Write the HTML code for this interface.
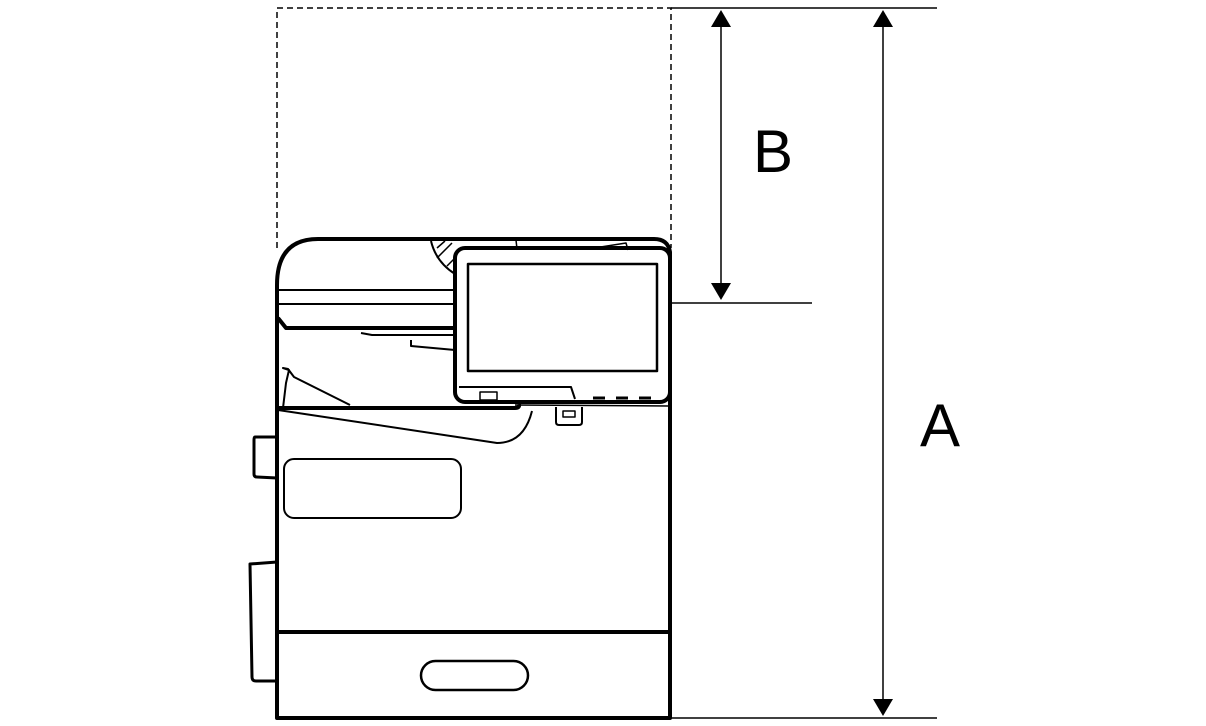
<!DOCTYPE html>
<html><head><style>html,body{margin:0;padding:0;background:#fff;}svg{display:block}</style></head>
<body>
<svg width="1206" height="726" viewBox="0 0 1206 726" xmlns="http://www.w3.org/2000/svg">
<g fill="none" stroke="#000">
<!-- dashed envelope -->
<path d="M277 248 V8 H671 V248" stroke-width="1.5" stroke-dasharray="6 4"/>
<!-- dimension lines -->
<line x1="671" y1="8" x2="937" y2="8" stroke-width="1.5"/>
<line x1="672" y1="303" x2="812" y2="303" stroke-width="1.5"/>
<line x1="671" y1="718" x2="937" y2="718" stroke-width="1.5"/>
<line x1="721" y1="24" x2="721" y2="284" stroke-width="1.5"/>
<line x1="883" y1="24" x2="883" y2="702" stroke-width="1.5"/>
</g>
<g fill="#000">
<polygon points="721,10 711,27 731,27"/>
<polygon points="721,300 711,283 731,283"/>
<polygon points="883,10 873,27 893,27"/>
<polygon points="883,716 873,699 893,699"/>
</g>
<text x="773" y="172" font-family="Liberation Sans, sans-serif" font-size="60" text-anchor="middle">B</text>
<text x="940" y="446" font-family="Liberation Sans, sans-serif" font-size="60" text-anchor="middle">A</text>
<g fill="none" stroke="#000" stroke-linejoin="round">
<!-- main body -->
<path d="M277 718 V285 Q277 239 318 239 H654 Q668 239 670 252 V718 Z" stroke-width="4"/>
<line x1="277" y1="632" x2="669" y2="632" stroke-width="4"/>
<rect x="421" y="661" width="107" height="29" rx="14.5" stroke-width="2.5"/>
<rect x="284" y="459" width="177" height="59" rx="10" stroke-width="2"/>
<!-- left side parts -->
<path d="M277 437 L255 437 Q254 437 254 440 V474 Q254 477 257 477 L277 478" stroke-width="3"/>
<path d="M277 562 L250 564 L252 677 Q252 681 256 681 L277 681" stroke-width="3"/>
<!-- ADF -->
<line x1="277" y1="290" x2="455" y2="290" stroke-width="2"/>
<line x1="277" y1="304" x2="455" y2="304" stroke-width="2"/>
<path d="M278 318 L286 328 H455" stroke-width="4"/>
<path d="M361 333 L372 335 H455" stroke-width="2"/>
<path d="M411 340 V346 L455 350" stroke-width="2"/>
<path d="M431 241 Q436 262 455 274" stroke-width="2"/>
<path d="M437 248 L445 241 M437 258 L452 243 M447 266 L455 258" stroke-width="1.5"/>
<line x1="516" y1="240" x2="517" y2="249" stroke-width="1.5"/>
<path d="M588 249 L626 243 L628 250" stroke-width="1.5"/>
<!-- output tray -->
<path d="M283 408 L286 383 L289 370 L283 368 L288 369 L294 377 L350 405" stroke-width="2"/>
<path d="M279 408 H515 Q520 408 519 404" stroke-width="4"/>
<path d="M278 410 L497 443 Q524 443 532 411" stroke-width="2"/>
<line x1="515" y1="405" x2="669" y2="406" stroke-width="1.5"/>
<!-- USB -->
<path d="M556 407 V422 Q556 425 559 425 H579 Q582 425 582 422 V407" stroke-width="2"/>
<rect x="563" y="411" width="12" height="6" stroke-width="1.5"/>
<!-- panel -->
<rect x="455" y="248" width="215" height="154" rx="10" stroke-width="4"/>
<rect x="468" y="264" width="189" height="107" stroke-width="2.5"/>
<path d="M459 387 H571 L575 399" stroke-width="2"/>
<rect x="480" y="392" width="17" height="8" stroke-width="1.5"/>
</g>
<g stroke="#000" stroke-width="3">
<line x1="593" y1="398" x2="605" y2="398"/>
<line x1="616" y1="398" x2="628" y2="398"/>
<line x1="639" y1="398" x2="651" y2="398"/>
</g>
</svg>
</body></html>
